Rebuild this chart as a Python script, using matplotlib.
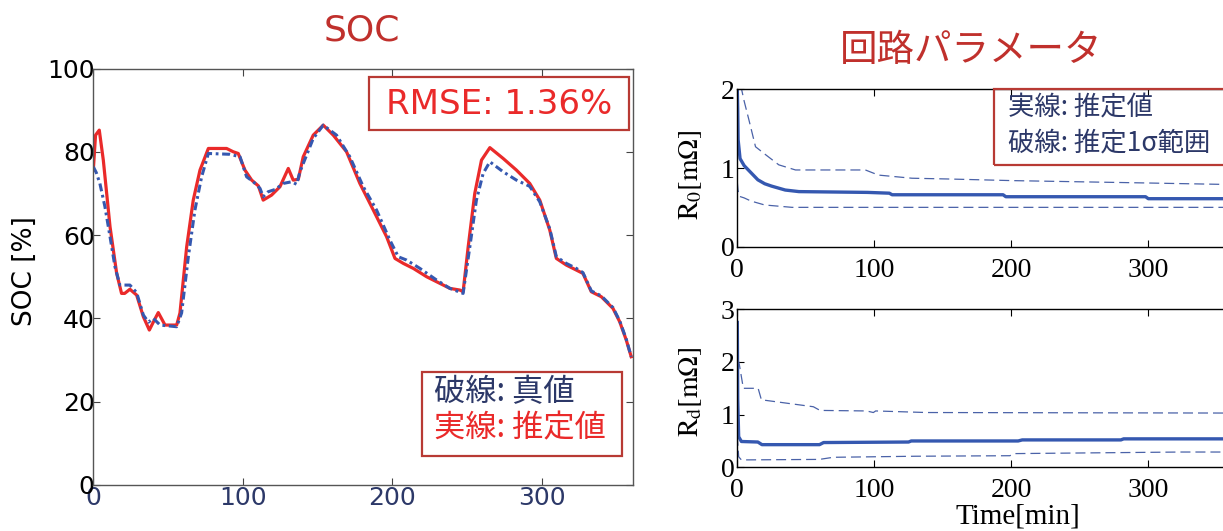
import matplotlib
matplotlib.use("Agg")
import matplotlib.pyplot as plt
from matplotlib.patches import Rectangle

# ---------------- data ----------------
# SOC estimate (solid red)
t_est = [0, 1.5, 4, 6.7, 11.2, 15.6, 18.9, 21, 24.5, 29, 33.5, 37.5, 40, 43.5, 48,
         55.8, 58, 62.5, 66.9, 71.4, 77, 89.2, 93.7, 97, 101.5, 106, 110.5, 113.7,
         119.3, 124.9, 130.5, 133.8, 137.2, 140.5, 147.2, 153.9, 160.6, 169.5, 178.4,
         187.4, 196.3, 201.9, 207.5, 214.2, 223.1, 232, 238.7, 245.4, 247.5, 250.9,
         255.3, 259.8, 265.4, 274.3, 283.2, 292.1, 298.8, 305.5, 309.9, 316.6, 323.3,
         327.7, 333.3, 340, 347.8, 352.3, 356.7, 360]
soc_est = [75.6, 84, 85.2, 78, 62, 50.9, 46, 46, 47, 45.6, 40.4, 37.2, 39, 41.4, 38.4,
           38.4, 41.3, 57.2, 68.4, 75.6, 80.8, 80.8, 80, 79.6, 75.6, 73.2, 71.8, 68.4,
           69.6, 71.6, 76, 73.2, 73.4, 78.8, 84, 86.4, 84, 80, 72.4,
           66, 59.6, 54.4, 53.2, 52, 50, 48.4, 47.2, 46.8, 46.4, 57.2,
           70, 78, 81, 78.4, 75.6, 72.4, 68.4, 61.2, 54.4, 52.8, 51.6,
           50.8, 46.4, 45.2, 42.4, 39.2, 34.8, 30.8]

# SOC true value (dash-dot blue)
t_true = [0, 2, 4.4, 7.8, 11.2, 14.5, 17.8, 24.5, 29, 33.5, 36.9, 40.2, 44.7, 55.8,
          59.1, 63.6, 68, 72.5, 77, 91.5, 98.2, 102.6, 107.1, 111.6, 113.7, 117, 122,
          127, 132.7, 136.1, 138.3, 147.2, 153.9, 162.8, 171.7, 180.7, 189.6, 198.5,
          204.1, 209.7, 218.6, 229.8, 238.7, 247.5, 252, 256.4, 260.9, 265.4, 274.3,
          283.2, 292.1, 298.8, 305.5, 309.9, 316.6, 323.3, 327.7, 333.3, 340, 347.8,
          352.3, 356.7, 360]
soc_true = [76.4, 75, 72.4, 66.8, 59.6, 52.4, 48, 48, 46.2, 40.8, 39.1, 40, 38.4, 38,
            41.3, 54.8, 66, 74, 79.6, 79.4, 78.8, 74, 72.8, 71.2, 69.2, 70.4, 71,
            72.4, 72.8, 72.2, 75.2, 83.2, 86.4, 84, 78.8, 71.6, 66, 58.8,
            54.8, 54, 52, 49.2, 47.2, 46, 57.2, 68.4, 74.8, 77.6, 75.2,
            73.2, 71.7, 68, 61.5, 54.8, 53.2, 52, 51, 46.6, 45.4, 42.6,
            39.4, 35, 30.8]

# R0 estimate and 1-sigma band
t_r0 = [0, 0.3, 0.6, 2, 5, 10, 15, 20, 25, 35, 45, 95, 111, 113, 194, 196, 298, 300, 360]
r0 = [2.0, 1.75, 1.36, 1.12, 1.03, 0.94, 0.85, 0.80, 0.77, 0.72, 0.70, 0.69, 0.68, 0.66,
      0.66, 0.635, 0.635, 0.61, 0.61]
t_r0_up = [2.5, 5, 8.5, 13.3, 20.6, 30.3, 42.5, 93.5, 103, 127.5, 155, 200, 298, 360]
r0_up = [2.05, 1.85, 1.61, 1.27, 1.17, 1.04, 0.975, 0.975, 0.91, 0.87, 0.86, 0.84, 0.81, 0.79]
t_r0_lo = [0, 0.5, 1.5, 5, 10, 20, 40, 360]
r0_lo = [0.82, 0.72, 0.64, 0.62, 0.58, 0.53, 0.50, 0.50]

# Rd estimate and 1-sigma band
t_rd = [0, 0.3, 1, 3, 15, 18, 60, 63, 125, 127, 205, 208, 280, 282, 360]
rd = [2.75, 1.3, 0.58, 0.49, 0.48, 0.43, 0.43, 0.47, 0.48, 0.50, 0.50, 0.52, 0.52, 0.54, 0.54]
t_rd_up = [0.5, 1.5, 4.4, 15.2, 17.6, 21, 55.5, 60.4, 94.4, 99.3, 101, 138, 360]
rd_up = [2.05, 1.95, 1.5, 1.5, 1.28, 1.27, 1.15, 1.08, 1.07, 1.04, 1.07, 1.04, 1.03]
t_rd_lo = [0, 1, 3, 60, 70, 130, 199, 202, 324, 360]
rd_lo = [0.6, 0.2, 0.14, 0.15, 0.19, 0.21, 0.22, 0.26, 0.29, 0.29]

soc_xticks = [0, 100, 200, 300]
soc_yticks = [0, 20, 40, 60, 80, 100]
par_xticks = [0, 100, 200, 300]

# ---------------- style ----------------
plt.rcParams['mathtext.fontset'] = 'stix'
W, H = 1223, 531
RED_T = '#c0302c'
RED = '#ea2a2a'
NAVY = '#2c3868'
BLUE = '#3558b0'
DASHC = '#4a62a8'
JP = ['Noto Sans CJK JP', 'DejaVu Sans']
SERIF = ['Liberation Serif', 'DejaVu Serif']

fig = plt.figure(figsize=(W / 100, H / 100), dpi=100)


def fx(x):
    return x / W


def fy(y):
    return 1 - y / H


def box(x0, y0, x1, y1, ec='#b83a34', lw=1.6):
    fig.patches.append(Rectangle((fx(x0), fy(y1)), fx(x1) - fx(x0), fy(y0) - fy(y1),
                                 transform=fig.transFigure, fill=False, ec=ec, lw=lw,
                                 zorder=10))


# ---------------- SOC chart ----------------
ax1 = fig.add_axes([fx(93.3), fy(485), fx(632.7) - fx(93.3), fy(68.5) - fy(485)])
ax1.plot(t_est, soc_est, color=RED, lw=2.3, solid_joinstyle='round')
ax1.plot(t_true, soc_true, color=BLUE, lw=2.2, linestyle=(0, (2.6, 1.2, 0.9, 1.2)))
ax1.set_xlim(0, 361)
ax1.set_ylim(0, 100)
ax1.set_xticks(soc_xticks)
ax1.set_yticks(soc_yticks)
ax1.tick_params(direction='in', top=True, right=True, length=5, width=0.8,
                labelsize=18, color='#444444')
ax1.tick_params(axis='x', labelcolor=NAVY, pad=1)
ax1.tick_params(axis='y', labelcolor='black', pad=-1)
for s in ax1.spines.values():
    s.set_color('#555555')
    s.set_linewidth(1.0)

fig.text(fx(362), fy(31), 'SOC', fontsize=26, color=RED_T, ha='center', va='center')
fig.text(fx(25), fy(271), 'SOC [%]', fontsize=19, rotation=90, ha='center', va='center')

box(369, 77, 629, 130)
fig.text(fx(499), fy(104), 'RMSE: 1.36%', fontsize=24.5, color=RED, ha='center',
         va='center', zorder=11)

box(422, 372, 622, 456)
fig.text(fx(434), fy(392), '破線: 真値', fontsize=22.5, color=NAVY, ha='left',
         va='center', family=JP, zorder=11)
fig.text(fx(434), fy(428), '実線: 推定値', fontsize=22.5, color=RED, ha='left',
         va='center', family=JP, zorder=11)

# ---------------- circuit parameters ----------------
pxu = 1.37  # pixels per minute
ax2 = fig.add_axes([fx(737.3), fy(246.7), fx(410 * pxu), fy(89.3) - fy(246.7)])
ax3 = fig.add_axes([fx(737.3), fy(467.3), fx(410 * pxu), fy(309.3) - fy(467.3)])

ax2.plot(t_r0, r0, color=BLUE, lw=2.4)
ax2.plot(t_r0_up, r0_up, color=DASHC, lw=0.9, linestyle=(0, (8, 4)))
ax2.plot(t_r0_lo, r0_lo, color=DASHC, lw=0.9, linestyle=(0, (8, 4)))
ax2.set_ylim(0, 2)
ax2.set_yticks([0, 1, 2])

ax3.plot(t_rd, rd, color=BLUE, lw=2.4)
ax3.plot(t_rd_up, rd_up, color=DASHC, lw=0.9, linestyle=(0, (8, 4)))
ax3.plot(t_rd_lo, rd_lo, color=DASHC, lw=0.9, linestyle=(0, (8, 4)))
ax3.set_ylim(0, 3)
ax3.set_yticks([0, 1, 2, 3])

for ax in (ax2, ax3):
    ax.set_xlim(0, 410)
    ax.set_xticks(par_xticks)
    ax.tick_params(direction='in', top=True, right=True, length=5, width=0.8,
                   labelsize=20)
    ax.tick_params(axis='x', pad=8)
    ax.tick_params(axis='y', pad=2)
    for lab in ax.get_xticklabels() + ax.get_yticklabels():
        lab.set_family(SERIF)
    for s in ax.spines.values():
        s.set_color('black')
        s.set_linewidth(1.0)

fig.text(fx(690), fy(175), r'$\mathrm{R_0[m\Omega]}$', fontsize=20, rotation=90,
         ha='center', va='center')
fig.text(fx(690), fy(392), r'$\mathrm{R_d[m\Omega]}$', fontsize=20, rotation=90,
         ha='center', va='center')
fig.text(fx(1018), fy(517), 'Time[min]', fontsize=21, family=SERIF, ha='center',
         va='center')

fig.text(fx(971), fy(50), '回路パラメータ', fontsize=27, color=RED_T, ha='center',
         va='center', family=JP)

box(994.3, 89.3, 1240, 165)
fig.text(fx(1008), fy(108), '実線: 推定値', fontsize=19, color=NAVY, ha='left',
         va='center', family=JP, zorder=11)
fig.text(fx(1008), fy(143), '破線: 推定1σ範囲', fontsize=19, color=NAVY, ha='left',
         va='center', family=JP, zorder=11)

fig.savefig('out.png', dpi=100)
